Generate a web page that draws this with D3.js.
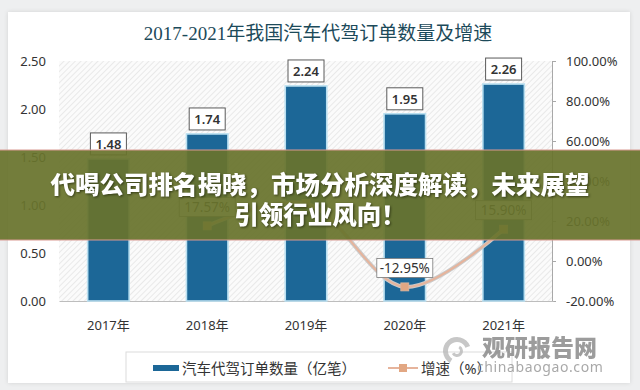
<!DOCTYPE html>
<html>
<head>
<meta charset="utf-8">
<script src="https://cdn.jsdelivr.net/npm/d3@7"></script>
<style>
  html, body { margin: 0; padding: 0; background: #eeeff0; }
  svg { display: block; }
</style>
</head>
<body>
<div id="chart"></div>
<script>
(function () {
  'use strict';

  // chart data
  const years = ['2017年', '2018年', '2019年', '2020年', '2021年'];
  const orders = [1.48, 1.74, 2.24, 1.95, 2.26];           // 亿笔
  const growth = [null, 17.57, 28.74, -12.95, 15.90];       // %
  const growthLabelYears = ['2018年', '2020年', '2021年'];  // 2019 label sits under the banner
  const leftTicks = [0, 0.5, 1, 1.5, 2, 2.5];
  const rightTicks = [-20, 0, 20, 40, 60, 80, 100];

  const title = '2017-2021年我国汽车代驾订单数量及增速';
  const legendLabels = ['汽车代驾订单数量（亿笔）', '增速（%）'];
  const bannerLines = ['代喝公司排名揭晓，市场分析深度解读，未来展望', '引领行业风向！'];

  const COLORS = {
    BAR: '#1c6797',
    BAR_GLOW: '#b9dff0',
    LINE: '#e6b49c',
    MARKER: '#e2a783',
    TEXT: '#333333',
    TITLE: '#1c4a5a'
  };
  const FONT = '"Noto Sans", "Noto Sans CJK SC", sans-serif';

  const width = 640;
  const height = 390;
  const plot = { left: 59, right: 553, top: 61, bottom: 301 };

  var svg = d3.select('#chart').append('svg')
    .attr('width', width)
    .attr('height', height);

  var defs = svg.append('defs');
  var hatch = defs.append('pattern')
    .attr('id', 'hatch')
    .attr('patternUnits', 'userSpaceOnUse')
    .attr('width', 4)
    .attr('height', 4)
    .attr('patternTransform', 'rotate(45)');
  hatch.append('rect').attr('width', 4).attr('height', 4).attr('fill', '#fbfbfb');
  hatch.append('line')
    .attr('x1', 0).attr('y1', 0).attr('x2', 0).attr('y2', 4)
    .attr('stroke', '#e2e2e2').attr('stroke-width', 1.4);

  var shadow = defs.append('filter').attr('id', 'cardShadow')
    .attr('x', '-5%').attr('y', '-5%').attr('width', '110%').attr('height', '110%');
  shadow.append('feDropShadow')
    .attr('dx', 0).attr('dy', 0).attr('stdDeviation', 2)
    .attr('flood-color', '#000').attr('flood-opacity', 0.12);

  /* white card */
  svg.append('rect')
    .attr('x', 8).attr('y', 12)
    .attr('width', 622).attr('height', 371)
    .attr('fill', '#ffffff')
    .attr('filter', 'url(#cardShadow)');

  svg.append('text')
    .attr('x', 318).attr('y', 33)
    .attr('text-anchor', 'middle')
    .attr('dominant-baseline', 'central')
    .style('font-family', '"Liberation Serif", "Noto Sans CJK SC", serif')
    .style('font-size', '19px')
    .attr('fill', COLORS.TITLE)
    .text(title);

  /* scales */
  var x = d3.scaleBand()
    .domain(years)
    .range([plot.left, plot.right])
    .padding(0);
  var barWidth = x.bandwidth() * 0.42;
  var cx = function (d) { return x(d) + x.bandwidth() / 2; };

  var y = d3.scaleLinear().domain([0, 2.5]).range([plot.bottom, plot.top]);
  var y2 = d3.scaleLinear().domain([-20, 100]).range([plot.bottom, plot.top]);

  /* plot background */
  svg.append('rect')
    .attr('x', plot.left).attr('y', plot.top)
    .attr('width', plot.right - plot.left)
    .attr('height', plot.bottom - plot.top)
    .attr('fill', 'url(#hatch)');

  // left axis
  var leftAxis = svg.append('g')
    .attr('transform', 'translate(' + (plot.left - 1) + ',0)')
    .call(d3.axisLeft(y).tickValues(leftTicks).tickSize(0).tickPadding(12)
      .tickFormat(function (d) { return d.toFixed(2); }));
  leftAxis.select('.domain').remove();

  // right axis
  var rightAxis = svg.append('g')
    .attr('transform', 'translate(' + (plot.right - 1) + ',0)')
    .call(d3.axisRight(y2).tickValues(rightTicks).tickSize(4).tickPadding(10)
      .tickFormat(function (d) { return d.toFixed(2) + '%'; }));
  rightAxis.select('.domain').attr('stroke', '#a8a8a8');
  rightAxis.selectAll('.tick line').attr('stroke', '#a8a8a8');

  // bottom axis
  var bottomAxis = svg.append('g')
    .attr('transform', 'translate(0,' + plot.bottom + ')')
    .call(d3.axisBottom(x).tickSize(0).tickPadding(20));
  bottomAxis.select('.domain').attr('stroke', '#bdbdbd');

  svg.selectAll('.tick text')
    .style('font-family', FONT)
    .style('font-size', '13px')
    .attr('fill', COLORS.TEXT);

  /* bars */
  svg.append('g').selectAll('rect')
    .data(orders)
    .enter()
    .append('rect')
    .attr('x', function (d, i) { return cx(years[i]) - barWidth / 2; })
    .attr('y', function (d) { return y(d); })
    .attr('width', barWidth)
    .attr('height', function (d) { return y(0) - y(d); })
    .attr('fill', COLORS.BAR)
    .attr('stroke', COLORS.BAR_GLOW)
    .attr('stroke-width', 1.6);

  // bar value labels
  var barLabels = svg.append('g').selectAll('g')
    .data(orders)
    .enter()
    .append('g')
    .attr('transform', function (d, i) {
      return 'translate(' + cx(years[i]) + ',' + (y(d) - 15) + ')';
    });
  barLabels.append('rect')
    .attr('x', -18).attr('y', -11)
    .attr('width', 36).attr('height', 22)
    .attr('fill', '#fff')
    .attr('stroke', '#5a5a5a')
    .attr('stroke-width', 1);
  barLabels.append('text')
    .attr('text-anchor', 'middle')
    .attr('dominant-baseline', 'central')
    .style('font-family', FONT)
    .style('font-size', '13px')
    .style('font-weight', 600)
    .attr('fill', COLORS.TEXT)
    .text(function (d) { return d.toFixed(2); });

  /* growth line */
  var growthPts = growth
    .map(function (v, i) { return { year: years[i], value: v }; })
    .filter(function (d) { return d.value !== null; });

  var line = d3.line()
    .x(function (d) { return cx(d.year); })
    .y(function (d) { return y2(d.value); })
    .curve(d3.curveCatmullRom.alpha(0.5));

  svg.append('path')
    .datum(growthPts)
    .attr('d', line)
    .attr('fill', 'none')
    .attr('stroke', '#cacaca')
    .attr('stroke-width', 4);
  svg.append('path')
    .datum(growthPts)
    .attr('d', line)
    .attr('fill', 'none')
    .attr('stroke', COLORS.LINE)
    .attr('stroke-width', 2);

  svg.append('g').selectAll('rect')
    .data(growthPts)
    .enter()
    .append('rect')
    .attr('x', function (d) { return cx(d.year) - 4; })
    .attr('y', function (d) { return y2(d.value) - 4; })
    .attr('width', 8).attr('height', 8)
    .attr('fill', COLORS.MARKER)
    .attr('stroke', '#d9b6a0')
    .attr('stroke-width', 0.8);

  var growthLabels = svg.append('g').selectAll('g')
    .data(growthPts.filter(function (d) { return growthLabelYears.includes(d.year); }))
    .enter()
    .append('g')
    .attr('transform', function (d) {
      return 'translate(' + cx(d.year) + ',' + (y2(d.value) - 19) + ')';
    });
  growthLabels.append('rect')
    .attr('x', -28).attr('y', -9.5)
    .attr('width', 56).attr('height', 19)
    .attr('fill', '#fff')
    .attr('stroke', '#7a7a7a')
    .attr('stroke-width', 0.8);
  growthLabels.append('text')
    .attr('text-anchor', 'middle')
    .attr('dominant-baseline', 'central')
    .style('font-family', FONT)
    .style('font-size', '13.5px')
    .attr('fill', COLORS.TEXT)
    .text(function (d) { return d.value.toFixed(2) + '%'; });

  /* legend */
  var legend = svg.append('g');
  legend.append('rect')
    .attr('x', 126).attr('y', 352)
    .attr('width', 386).attr('height', 30)
    .attr('fill', '#fff')
    .attr('stroke', '#dcdcdc');
  legend.append('rect')
    .attr('x', 153).attr('y', 365)
    .attr('width', 26).attr('height', 6)
    .attr('fill', COLORS.BAR);
  legend.append('text')
    .attr('x', 182).attr('y', 368)
    .attr('dominant-baseline', 'central')
    .style('font-family', FONT)
    .style('font-size', '14.5px')
    .attr('fill', COLORS.TEXT)
    .text(legendLabels[0]);
  legend.append('line')
    .attr('x1', 388).attr('x2', 418)
    .attr('y1', 368).attr('y2', 368)
    .attr('stroke', COLORS.LINE)
    .attr('stroke-width', 2);
  legend.append('rect')
    .attr('x', 399).attr('y', 364)
    .attr('width', 8).attr('height', 8)
    .attr('fill', COLORS.MARKER);
  legend.append('text')
    .attr('x', 421).attr('y', 368)
    .attr('dominant-baseline', 'central')
    .style('font-family', FONT)
    .style('font-size', '14.5px')
    .attr('fill', COLORS.TEXT)
    .text(legendLabels[1]);

  /* watermark */
  var mark = svg.append('g').attr('opacity', 0.75);
  mark.append('path')
    .attr('d', d3.arc()({ innerRadius: 9, outerRadius: 14, startAngle: -2.6, endAngle: 1.2 }))
    .attr('transform', 'translate(457,351)')
    .attr('fill', '#b5b5b5');
  mark.append('path')
    .attr('d', d3.arc()({ innerRadius: 3, outerRadius: 6, startAngle: 0.5, endAngle: 4.2 }))
    .attr('transform', 'translate(457,351)')
    .attr('fill', '#b5b5b5');
  mark.append('text')
    .attr('x', 482).attr('y', 346)
    .attr('dominant-baseline', 'central')
    .style('font-family', '"Noto Sans CJK SC", sans-serif')
    .style('font-size', '23px')
    .style('font-weight', 900)
    .attr('fill', '#7c7c7c')
    .text('观研报告网');
  mark.append('text')
    .attr('x', 477).attr('y', 366)
    .attr('dominant-baseline', 'central')
    .style('font-family', FONT)
    .style('font-size', '14px')
    .style('letter-spacing', '0.6px')
    .attr('fill', '#8c8c8c')
    .text('chinabaogao.com');

  /* headline banner */
  svg.append('rect')
    .attr('x', 0).attr('y', 150)
    .attr('width', width).attr('height', 90)
    .attr('fill', 'rgb(104,115,44)')
    .attr('fill-opacity', 0.93);
  svg.append('line')
    .attr('x1', 0).attr('x2', width)
    .attr('y1', 150).attr('y2', 150)
    .attr('stroke', '#d99a92').attr('stroke-width', 1);
  svg.append('line')
    .attr('x1', 0).attr('x2', width)
    .attr('y1', 240).attr('y2', 240)
    .attr('stroke', '#d99a92').attr('stroke-width', 1);

  svg.append('g').selectAll('text')
    .data(bannerLines)
    .enter()
    .append('text')
    .attr('x', 320)
    .attr('y', function (d, i) { return 183 + i * 30; })
    .attr('text-anchor', 'middle')
    .attr('dominant-baseline', 'central')
    .style('font-family', '"Noto Sans CJK SC", sans-serif')
    .style('font-size', '24.5px')
    .style('font-weight', 900)
    .style('filter', 'drop-shadow(1px 1px 1px rgba(30,35,10,0.7))')
    .attr('fill', '#ffffff')
    .text(function (d) { return d; });
}());
</script>
</body>
</html>
